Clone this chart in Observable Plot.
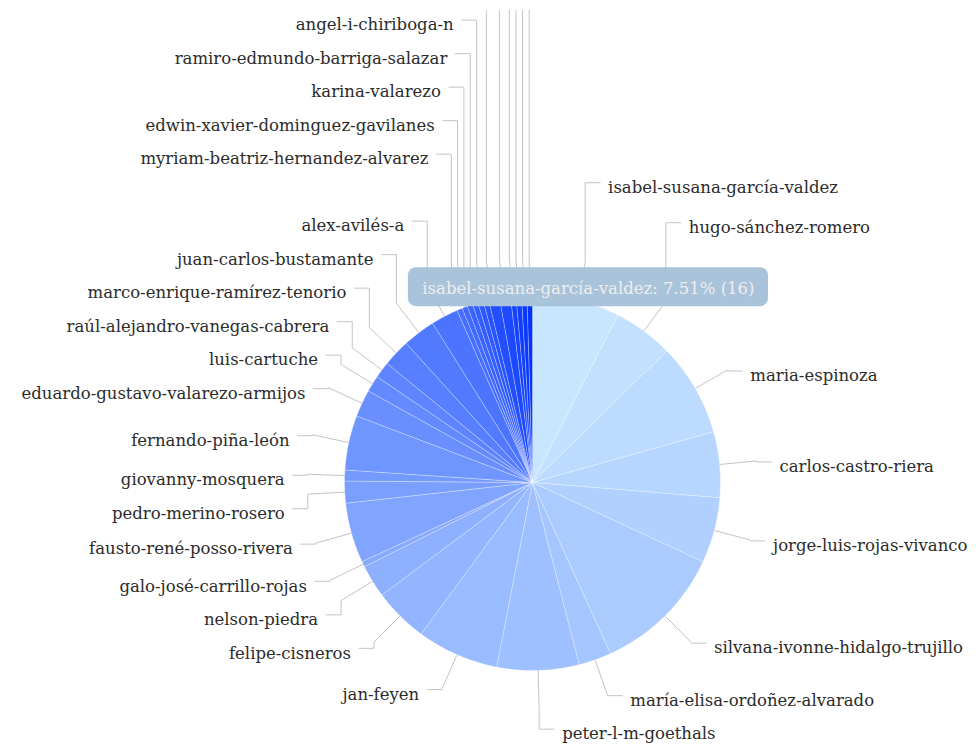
<!DOCTYPE html>
<html>
<head>
<meta charset="utf-8">
<script src="https://cdn.jsdelivr.net/npm/d3@7"></script>
<script src="https://cdn.jsdelivr.net/npm/@observablehq/plot@0.6"></script>
<style>
  html, body { margin: 0; padding: 0; background: #fff; }
  #chart { padding-top: 10px; }
  #chart svg { overflow: hidden; display: block; }
  g[aria-label="tooltip-text"] text { text-shadow: 1px 1px 1px rgba(70,70,70,0.85); }
</style>
</head>
<body>
<div id="chart"></div>
<script>
// ---------- data (clockwise from 12 o'clock) ----------
const names = [
  "isabel-susana-garcía-valdez",
  "hugo-sánchez-romero",
  "maria-espinoza",
  "carlos-castro-riera",
  "jorge-luis-rojas-vivanco",
  "silvana-ivonne-hidalgo-trujillo",
  "maría-elisa-ordoñez-alvarado",
  "peter-l-m-goethals",
  "jan-feyen",
  "felipe-cisneros",
  "nelson-piedra",
  "galo-josé-carrillo-rojas",
  "fausto-rené-posso-rivera",
  "pedro-merino-rosero",
  "giovanny-mosquera",
  "fernando-piña-león",
  "eduardo-gustavo-valarezo-armijos",
  "luis-cartuche",
  "raúl-alejandro-vanegas-cabrera",
  "marco-enrique-ramírez-tenorio",
  "juan-carlos-bustamante",
  "alex-avilés-a",
  "",
  "myriam-beatriz-hernandez-alvarez",
  "edwin-xavier-dominguez-gavilanes",
  "karina-valarezo",
  "ramiro-edmundo-barriga-salazar",
  "angel-i-chiriboga-n",
  "autor-29",
  "autor-30",
  "autor-31",
  "autor-32",
  "autor-33",
  "autor-34"
];
const values = [
  16, 11, 17, 12, 12, 24, 6, 15, 15, 10,
  6, 1, 11, 4, 2, 10, 5, 3, 3, 5,
  6, 5, 1, 1, 1, 1, 1, 1, 2, 2,
  1, 1, 1, 1
];
const hoveredName = "isabel-susana-garcía-valdez";

// ---------- layout / style ----------
const W = 976, H = 747, TOP = 10;
const cx = 532, cy = 482, R = 188;
const RL = 225, gap = 23, seg = 15, spacing = 33.5;
const font = "DejaVu Serif", fontSize = 16.5;
const colorStart = "#c9e6ff", colorEnd = "#0433ff";

const total = d3.sum(values);
const data = names.map((name, i) => ({name, value: values[i], i}));
const arcs = d3.pie().sort(null).value(d => d.value)(data);
const n = data.length;
const interp = d3.interpolateRgb(colorStart, colorEnd);
const polar = (a, r) => [cx + r * Math.sin(a), cy - r * Math.cos(a)];

// slice outlines
const slicePts = [];
arcs.forEach((a, k) => {
  const color = interp(k / (n - 1));
  slicePts.push({k, x: cx, y: cy, color});
  const steps = Math.max(2, Math.ceil((a.endAngle - a.startAngle) / (Math.PI / 360)));
  for (let s = 0; s <= steps; s++) {
    const ang = a.startAngle + (a.endAngle - a.startAngle) * s / steps;
    const [x, y] = polar(ang, R);
    slicePts.push({k, x, y, color});
  }
});

// labels at natural positions
const labels = arcs.map((a, k) => {
  const mid = (a.startAngle + a.endAngle) / 2;
  const [ex, ey] = polar(mid, RL);
  const [px, py] = polar(mid, R);
  return {k, name: a.data.name, value: a.data.value, mid, ex, ey, px, py,
          right: mid < Math.PI, upper: Math.cos(mid) > 0, y: ey + 6};
});

// collision resolution per side: upper half pushed up (from the middle), lower half pushed down
function resolve(side) {
  const up = side.filter(l => l.upper).sort((a, b) => b.y - a.y);   // bottom first
  const low = side.filter(l => !l.upper).sort((a, b) => a.y - b.y); // top first
  let prev = Infinity;
  up.forEach(l => { l.y = Math.min(l.y, prev - spacing); prev = l.y; });
  prev = up.length ? up[0].y : -Infinity;
  low.forEach(l => { l.y = Math.max(l.y, prev + spacing); prev = l.y; });
}
resolve(labels.filter(l => l.right));
resolve(labels.filter(l => !l.right));

// tooltip box
const hov = labels.find(l => l.name === hoveredName);
const tipText = `${hov.name}: ${(hov.value / total * 100).toFixed(2)}% (${hov.value})`;
const ctx = document.createElement("canvas").getContext("2d");
ctx.font = `${fontSize}px "${font}"`;
const tw = ctx.measureText(tipText).width;
const tipW = tw + 28, tipH = 39;
const tipCx = hov.px + 12, tipBottom = hov.py + 7;
const tip = {x1: tipCx - tipW / 2, x2: tipCx + tipW / 2, y1: tipBottom - tipH, y2: tipBottom,
             cx: tipCx, cy: tipBottom - tipH / 2 + 2, text: tipText};

// right-side labels covered by the tooltip are stacked just above it
const underTip = labels.filter(l => l.right && l.y - 9 < tip.y2 && l.y + 9 > tip.y1 && l.ex + gap < tip.x2)
  .sort((a, b) => b.mid - a.mid);
underTip.forEach((l, j) => { l.y = tip.y1 - 40 * (j + 1); });

const shown = labels.filter(l => l.name !== "");
const linePts = [];
shown.forEach(l => {
  const s = l.right ? 1 : -1;
  linePts.push({k: l.k, x: l.px, y: l.py});
  linePts.push({k: l.k, x: l.ex, y: l.ey});
  linePts.push({k: l.k, x: l.ex, y: l.y - 5});
  linePts.push({k: l.k, x: l.ex + s * seg, y: l.y - 5});
  l.tx = l.ex + s * gap;
});
// texts pushed beyond the top of the drawing are not drawn (only their leader lines reach in)
const visible = shown.filter(l => l.y - 9 >= TOP);

const chart = Plot.plot({
  width: W, height: H - TOP, margin: 0,
  x: {domain: [0, W], range: [0, W], axis: null},
  y: {domain: [TOP, H], range: [0, H - TOP], axis: null},
  color: {type: "identity"},
  style: {background: "#fff"},
  marks: [
    Plot.line(linePts, {x: "x", y: "y", z: "k", stroke: "#c4c4c4", strokeWidth: 1}),
    Plot.line(slicePts, {x: "x", y: "y", z: "k", fill: "color", stroke: "#ffffff",
      strokeOpacity: 0.4, strokeWidth: 0.8, curve: "linear-closed"}),
    Plot.text(visible.filter(l => l.right), {x: "tx", y: "y", text: "name", textAnchor: "start",
      fill: "#2b2b2b", fontFamily: font, fontSize}),
    Plot.text(visible.filter(l => !l.right), {x: "tx", y: "y", text: "name", textAnchor: "end",
      fill: "#2b2b2b", fontFamily: font, fontSize}),
    Plot.rect([tip], {x1: "x1", x2: "x2", y1: "y1", y2: "y2", fill: "#a9c3da", rx: 8}),
    Plot.text([tip], {x: "cx", y: "cy", text: "text", fill: "#eeeeee", fontFamily: font,
      fontSize, ariaLabel: "tooltip-text"})
  ]
});
document.getElementById("chart").appendChild(chart);
</script>
</body>
</html>
